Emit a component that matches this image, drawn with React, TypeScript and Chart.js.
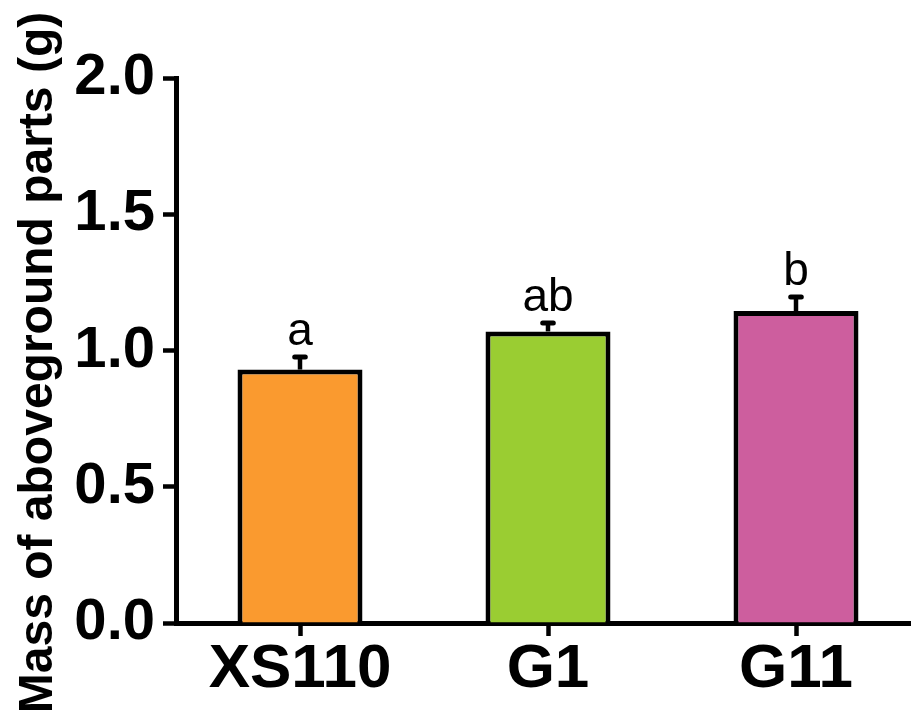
import React, { useEffect, useRef } from "react";
import { Chart, registerables } from "chart.js";

Chart.register(...registerables);

const categories = ["XS110", "G1", "G11"];
const means = [0.93, 1.07, 1.145];
const errors = [0.046, 0.031, 0.051];
const letters = ["a", "ab", "b"];
const barColors = ["#FA9A2F", "#9ACD32", "#CD5E9E"];
const yTicks = [0, 0.5, 1.0, 1.5, 2.0];
const yTitle = "Mass of aboveground parts (g)";

const FONT = "'Liberation Sans', Arial, Helvetica, sans-serif";

export default function App() {
  const ref = useRef<HTMLCanvasElement>(null);

  useEffect(() => {
    const canvas = ref.current;
    if (!canvas) return;

    const overlay = {
      id: "overlay",
      afterDatasetsDraw(chart: any) {
        const ctx = chart.ctx;
        const meta = chart.getDatasetMeta(0);
        const ys = chart.scales.y;
        ctx.save();
        meta.data.forEach((bar: any, i: number) => {
          const x = bar.x;
          const top = ys.getPixelForValue(means[i]);
          const capY = ys.getPixelForValue(means[i] + errors[i]);
          ctx.strokeStyle = "#000";
          ctx.lineWidth = 4.5;
          ctx.lineCap = "butt";
          ctx.beginPath();
          ctx.moveTo(x, top);
          ctx.lineTo(x, capY);
          ctx.stroke();
          ctx.lineWidth = 5;
          ctx.lineCap = "round";
          ctx.beginPath();
          ctx.moveTo(x - 5.3, capY);
          ctx.lineTo(x + 5.3, capY);
          ctx.stroke();
          ctx.fillStyle = "#000";
          ctx.font = `46px ${FONT}`;
          ctx.textAlign = "center";
          ctx.textBaseline = "alphabetic";
          ctx.fillText(letters[i], x, capY - 12);
        });
        ctx.restore();
      },
      afterDraw(chart: any) {
        const ctx = chart.ctx;
        const area = chart.chartArea;
        ctx.save();
        ctx.translate(52, (area.top + area.bottom) / 2 + 12);
        ctx.rotate(-Math.PI / 2);
        ctx.fillStyle = "#000";
        ctx.font = `bold 48px ${FONT}`;
        ctx.textAlign = "center";
        ctx.textBaseline = "alphabetic";
        ctx.fillText(yTitle, 0, 0);
        ctx.restore();
      },
    };

    const chart = new Chart(canvas, {
      type: "bar",
      data: {
        labels: categories,
        datasets: [
          {
            data: means,
            backgroundColor: barColors,
            borderColor: "#000",
            borderWidth: 5,
            borderSkipped: "start",
            barPercentage: 0.504,
            categoryPercentage: 1,
          },
        ],
      },
      options: {
        animation: false,
        responsive: false,
        devicePixelRatio: 1,
        layout: { padding: { top: 78, left: 0, right: 0, bottom: 0 } },
        plugins: {
          legend: { display: false },
          tooltip: { enabled: false },
          title: { display: false },
        },
        scales: {
          x: {
            type: "category",
            offset: true,
            z: 1,
            grid: {
              display: true,
              drawOnChartArea: false,
              drawTicks: true,
              tickLength: 13,
              tickWidth: 4.5,
              tickColor: "#000",
              offset: false,
            },
            border: { display: true, color: "#000", width: 5 },
            ticks: {
              color: "#000",
              font: { family: FONT, size: 62, weight: "bold" },
              padding: -3,
              maxRotation: 0,
              autoSkip: false,
            },
            afterFit: (s: any) => {
              s.height = 94;
            },
          },
          y: {
            min: 0,
            max: 2,
            z: 1,
            afterBuildTicks: (s: any) => {
              s.ticks = yTicks.map((v) => ({ value: v }));
            },
            grid: {
              display: true,
              drawOnChartArea: false,
              drawTicks: true,
              tickLength: 13,
              tickWidth: 4.5,
              tickColor: "#000",
            },
            border: { display: true, color: "#000", width: 5 },
            ticks: {
              color: "#000",
              font: { family: FONT, size: 58, weight: "bold" },
              padding: 8,
              callback: (v: any) => Number(v).toFixed(1),
            },
            afterFit: (s: any) => {
              s.width = 176;
            },
          },
        },
      },
      plugins: [overlay],
    } as any);

    return () => chart.destroy();
  }, []);

  return (
    <div
      style={{
        position: "fixed",
        left: 0,
        top: 0,
        width: 911,
        height: 717,
        overflow: "hidden",
        background: "#fff",
      }}
    >
      <canvas ref={ref} width={920} height={717} style={{ display: "block" }} />
    </div>
  );
}
